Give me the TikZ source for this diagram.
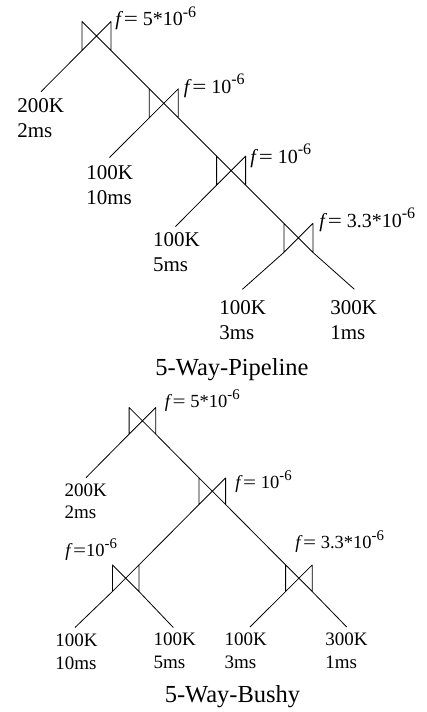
\documentclass[tikz,border=0pt]{standalone}
\usepackage{fontspec}
\setmainfont{Liberation Serif}
\usetikzlibrary{calc}
\newcommand{\supx}[1]{\raisebox{0.42em}{\scalebox{0.8}{#1}}}
\newcommand{\feq}{\textit{f}\kern0.5pt\scalebox{1.25}[1]{=}}
\begin{document}
\begin{tikzpicture}[x=1pt,y=-1pt, line width=0.8pt, line join=round,
  joinA/.style={inner sep=0pt, outer sep=0pt, minimum size=29pt},
  joinB/.style={inner sep=0pt, outer sep=0pt, minimum size=26.6pt},
  leafA/.style={anchor=base west, inner sep=0pt, align=left, font=\fontsize{21}{25}\selectfont},
  leafB/.style={anchor=base west, inner sep=0pt, align=left, font=\fontsize{19}{22.5}\selectfont},
  fA/.style={anchor=base west, inner sep=0pt, font=\fontsize{20}{24}\selectfont},
  fB/.style={anchor=base west, inner sep=0pt, font=\fontsize{18.5}{22}\selectfont},
  captext/.style={anchor=base, inner sep=0pt, font=\fontsize{24.5}{29}\selectfont}]
\useasboundingbox (0,0) rectangle (426,712);
% ---------- pipeline ----------
\node[joinA] (j1) at (96.5,36) {};
\node[joinA] (j2) at (163.8,103.3) {};
\node[joinA] (j3) at (231.1,170.6) {};
\node[joinA] (j4) at (298.4,237.9) {};
% ---------- bushy ----------
\node[joinB] (b1) at (142.4,420.8) {};
\node[joinB] (b2) at (212.3,491.2) {};
\node[joinB] (b3) at (125.7,578.2) {};
\node[joinB] (b4) at (298.9,578.2) {};
\foreach \n in {j1,j2,j3,j4,b1,b2,b3,b4}
  \draw (\n.north west) -- (\n.south west) -- (\n.north east) -- (\n.south east) -- cycle;
% leaf ends
\coordinate (p1) at (41,91.7);
\coordinate (p2) at (109.5,157.5);
\coordinate (p3) at (175.5,226.5);
\coordinate (p4) at (242.4,289.3);
\coordinate (p5) at (354.4,289.3);
\coordinate (q1) at (86,477.7);
\coordinate (q2) at (75,627.5);
\coordinate (q3) at (173.3,627.5);
\coordinate (q4) at (250,627);
\coordinate (q5) at (346.7,627);
% connectors
\draw (j1.south east) -- (j2.north west);
\draw (j2.south east) -- (j3.north west);
\draw (j3.south east) -- (j4.north west);
\draw (j1.south west) -- (p1);
\draw (j2.south west) -- (p2);
\draw (j3.south west) -- (p3);
\draw (j4.south west) -- (p4);
\draw (j4.south east) -- (p5);
\draw (b1.south east) -- (b2.north west);
\draw (b2.south west) -- (b3.north east);
\draw (b2.south east) -- (b4.north west);
\draw (b1.south west) -- (q1);
\draw (b3.south west) -- (q2);
\draw (b3.south east) -- (q3);
\draw (b4.south west) -- (q4);
\draw (b4.south east) -- (q5);
% leaf labels (anchored at the baseline of the last line)
\node[leafA] (t1) at (17,137.5) {200K\\2ms};
\node[leafA] (t2) at (86,204) {100K\\10ms};
\node[leafA] (t3) at (152.7,271) {100K\\5ms};
\node[leafA] (t4) at (219,339) {100K\\3ms};
\node[leafA] (t5) at (330,339) {300K\\1ms};
\node[leafB] (u1) at (64.3,518.5) {200K\\2ms};
\node[leafB] (u2) at (55,669) {100K\\10ms};
\node[leafB] (u3) at (153.3,668) {100K\\5ms};
\node[leafB] (u4) at (224.3,668) {100K\\3ms};
\node[leafB] (u5) at (325,668) {300K\\1ms};
% selectivity labels
\node[fA] (f1) at (115,25.5) {\feq\ 5*10\supx{-6}};
\node[fA] (f2) at (183.5,93) {\feq\ 10\supx{-6}};
\node[fA] (f3) at (250,163) {\feq\ 10\supx{-6}};
\node[fA] (f4) at (319,227) {\feq\ 3.3*10\supx{-6}};
\node[fB] (g1) at (164.5,407.5) {\feq\ 5*10\supx{-6}};
\node[fB] (g2) at (235,488.3) {\feq\ 10\supx{-6}};
\node[fB] (g3) at (65,556) {\feq 10\supx{-6}};
\node[fB] (g4) at (295,548.3) {\feq\ 3.3*10\supx{-6}};
% captions
\node[captext] (c1) at (232,375) {5-Way-Pipeline};
\node[captext] (c2) at (232.5,702.7) {5-Way-Bushy};
\end{tikzpicture}
\end{document}
